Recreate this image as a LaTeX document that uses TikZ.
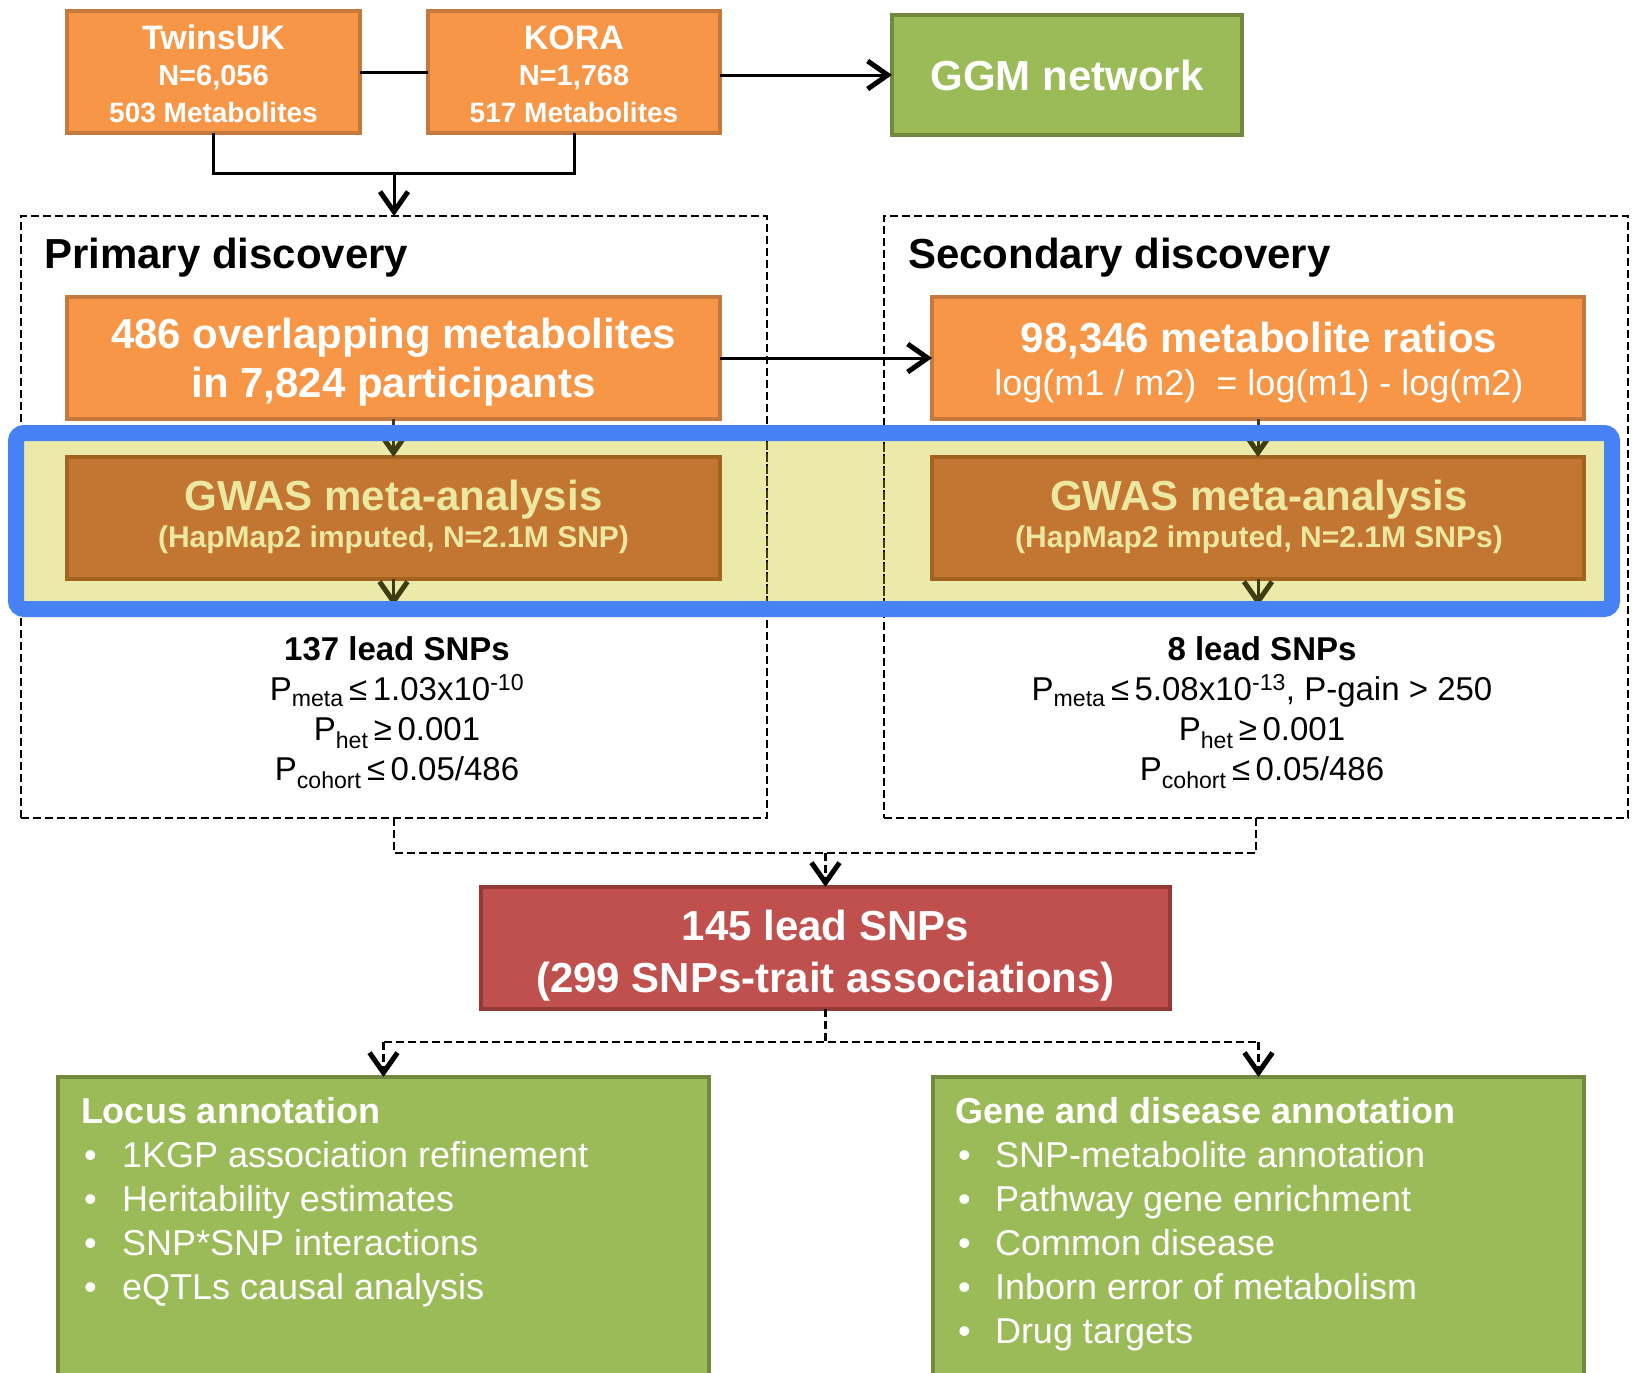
\documentclass[tikz,border=0pt]{standalone}
\usepackage{fontspec}
\setmainfont{Liberation Sans}
\usetikzlibrary{arrows.meta}
\definecolor{orfill}{HTML}{F79646}
\definecolor{ordraw}{HTML}{C7783C}
\definecolor{grfill}{HTML}{9BBB59}
\definecolor{grdraw}{HTML}{71893F}
\definecolor{rdfill}{HTML}{C0504D}
\definecolor{rddraw}{HTML}{923A37}
\definecolor{gwfill}{HTML}{C27631}
\definecolor{gwdraw}{HTML}{A0641F}
\definecolor{gwtext}{HTML}{ECE8A2}
\definecolor{bandfill}{HTML}{ECEAA8}
\definecolor{bandblue}{HTML}{4682F6}
\definecolor{olivek}{HTML}{3E3D12}
\newcommand{\fsz}[1]{\fontsize{#1}{#1}\selectfont}
\begin{document}
\begin{tikzpicture}[x=1pt,y=-1pt,
  box/.style={line width=4, inner sep=0, outer sep=0},
  obox/.style={box, draw=ordraw, fill=orfill},
  gbox/.style={box, draw=grdraw, fill=grfill},
  rbox/.style={box, draw=rddraw, fill=rdfill},
  wbox/.style={box, draw=gwdraw, fill=gwfill},
  dbox/.style={draw=black, line width=2.5, dash pattern=on 8pt off 4pt, inner sep=0, outer sep=0},
  wt/.style={anchor=base, inner sep=0, outer sep=0, text=white},
  kt/.style={anchor=base, inner sep=0, outer sep=0, text=black},
  lt/.style={anchor=base west, inner sep=0, outer sep=0, text=white},
  ln/.style={line width=3, draw=black},
  tip/.style={-{Straight Barb[length=20pt, width=28pt, line width=5pt]}},
  arr/.style={ln, tip},
  oarr/.style={line width=3, draw=olivek, tip},
  dln/.style={line width=2.5, draw=black, dash pattern=on 8pt off 4pt},
  darr/.style={dln, tip},
]
\useasboundingbox (0,0) rectangle (1634,1373);
\fill[white] (0,0) rectangle (1634,1373);

% highlight band background
\fill[bandfill] (16,433) rectangle (1612,609);

% dashed discovery boxes
\node[dbox, minimum width=746, minimum height=602] (prim) at (394,517) {};
\node[dbox, minimum width=744, minimum height=602] (sec) at (1256,517) {};
\begin{scope}
  \clip (16,433) rectangle (1612,609);
  \draw[dbox, draw=olivek] (prim.north west) rectangle (prim.south east);
  \draw[dbox, draw=olivek] (sec.north west) rectangle (sec.south east);
\end{scope}

% top boxes
\node[obox, minimum width=293, minimum height=122] (twins) at (213.5,72) {};
\node[obox, minimum width=292, minimum height=122] (kora) at (574,72) {};
\node[gbox, minimum width=350, minimum height=120, text=white, font={\bfseries\fsz{42}}] (ggm) at (1067,75) {GGM network};

\node[wt, font={\bfseries\fsz{34}}] (tw1) at (213.5,49) {TwinsUK};
\node[wt, font={\bfseries\fsz{29}}] (tw2) at (213.5,85) {N=6,056};
\node[wt, font={\bfseries\fsz{28}}] (tw3) at (213.5,122) {503 Metabolites};
\node[wt, font={\bfseries\fsz{34}}] (ko1) at (574,49) {KORA};
\node[wt, font={\bfseries\fsz{29}}] (ko2) at (574,85) {N=1,768};
\node[wt, font={\bfseries\fsz{28}}] (ko3) at (574,122) {517 Metabolites};

% headings
\node[anchor=base west, inner sep=0, font={\bfseries\fsz{42}}] (primt) at (44,268) {Primary discovery};
\node[anchor=base west, inner sep=0, font={\bfseries\fsz{42}}] (sect) at (908,268) {Secondary discovery};

% metabolite boxes
\node[obox, minimum width=653, minimum height=122] (over) at (393.5,358) {};
\node[obox, minimum width=652, minimum height=122] (ratio) at (1258,358) {};
\node[wt, font={\bfseries\fsz{42}}] (ov1) at (393.5,348) {486 overlapping metabolites};
\node[wt, font={\bfseries\fsz{42}}] (ov2) at (393.5,397) {in 7,824 participants};
\node[wt, font={\bfseries\fsz{42}}] (ra1) at (1259,352) {98,346 metabolite ratios};
\node[wt, font={\fsz{36}}] (ra2) at (1259,395) {log(m1 / m2)\ \ = log(m1) - log(m2)};

% GWAS boxes
\node[wbox, minimum width=653, minimum height=122] (gwasL) at (393.5,518) {};
\node[wbox, minimum width=652, minimum height=122] (gwasR) at (1258,518) {};
\node[wt, text=gwtext, font={\bfseries\fsz{42}}] (gl1) at (393.5,510) {GWAS meta-analysis};
\node[wt, text=gwtext, font={\bfseries\fsz{30}}] (gl2) at (393.5,547) {(HapMap2 imputed, N=2.1M SNP)};
\node[wt, text=gwtext, font={\bfseries\fsz{42}}] (gr1) at (1259,510) {GWAS meta-analysis};
\node[wt, text=gwtext, font={\bfseries\fsz{30}}] (gr2) at (1259,547) {(HapMap2 imputed, N=2.1M SNPs)};

% lead SNP criteria
\node[kt, font={\bfseries\fsz{33}}] (c1a) at (397,660) {137 lead SNPs};
\node[kt, font={\fsz{33}}] (c1b) at (397,700) {P\textsubscript{meta}\,≤\,1.03x10\textsuperscript{-10}};
\node[kt, font={\fsz{33}}] (c1c) at (397,740) {P\textsubscript{het}\,≥\,0.001};
\node[kt, font={\fsz{33}}] (c1d) at (397,780) {P\textsubscript{cohort}\,≤\,0.05/486};
\node[kt, font={\bfseries\fsz{33}}] (c2a) at (1262,660) {8 lead SNPs};
\node[kt, font={\fsz{33}}] (c2b) at (1262,700) {P\textsubscript{meta}\,≤\,5.08x10\textsuperscript{-13}, P-gain > 250};
\node[kt, font={\fsz{33}}] (c2c) at (1262,740) {P\textsubscript{het}\,≥\,0.001};
\node[kt, font={\fsz{33}}] (c2d) at (1262,780) {P\textsubscript{cohort}\,≤\,0.05/486};

% red box
\node[rbox, minimum width=689, minimum height=122] (red) at (825.5,948) {};
\node[wt, font={\bfseries\fsz{42}}] (rd1) at (825.5,940) {145 lead SNPs};
\node[wt, font={\bfseries\fsz{42}}] (rd2) at (825.5,992) {(299 SNPs-trait associations)};

% green annotation boxes
\node[gbox, anchor=north, minimum width=651, minimum height=340] (locus) at (383.5,1077) {};
\node[gbox, anchor=north, minimum width=651, minimum height=340] (gene) at (1258.5,1077) {};
\node[lt, font={\bfseries\fsz{36}}] (lct) at (81,1123) {Locus annotation};
\foreach \t [count=\i] in {1KGP association refinement, Heritability estimates, SNP*SNP interactions, eQTLs causal analysis}{
  \node[lt, font={\fsz{36}}] (lb\i) at (84,1123+44*\i) {•};
  \node[lt, font={\fsz{36}}] (li\i) at (122,1123+44*\i) {\t};
}
\node[lt, font={\bfseries\fsz{36}}] (gnt) at (955,1123) {Gene and disease annotation};
\foreach \t [count=\i] in {SNP-metabolite annotation, Pathway gene enrichment, Common disease, Inborn error of metabolism, Drug targets}{
  \node[lt, font={\fsz{36}}] (gb\i) at (958,1123+44*\i) {•};
  \node[lt, font={\fsz{36}}] (gi\i) at (995,1123+44*\i) {\t};
}

% connectors
\coordinate (jn0) at (394,173);
\draw[ln] (twins.east) -- (kora.west);
\draw[arr] (kora.east |- ggm.west) -- (ggm.west);
\draw[ln] (twins.south) |- (jn0) -| (kora.south);
\draw[arr] (jn0) -- (prim.north);
\draw[arr] (over.east) -- (ratio.west);
\draw[oarr] (over.south) -- (gwasL.north);
\draw[oarr] (ratio.south) -- (gwasR.north);
\coordinate (eL) at (393.5,606);
\coordinate (eR) at (1258,606);
\draw[oarr] (gwasL.south) -- (eL);
\draw[oarr] (gwasR.south) -- (eR);

\coordinate (jn1) at (825.5,853);
\draw[dln] (prim.south) |- (jn1) -| (sec.south);
\draw[darr] (jn1) -- (red.north);
\coordinate (jn2) at (825.5,1042);
\draw[dln] (red.south) -- (jn2);
\draw[dln] (locus.north |- jn2) -- (gene.north |- jn2);
\draw[darr] (locus.north |- jn2) -- (locus.north);
\draw[darr] (gene.north |- jn2) -- (gene.north);

% blue highlight frame
\draw[black!18, line width=6, rounded corners=8] (18,437) rectangle (1614,613);
\draw[bandblue, line width=16, rounded corners=8] (16,433) rectangle (1612,609);
\end{tikzpicture}
\end{document}
